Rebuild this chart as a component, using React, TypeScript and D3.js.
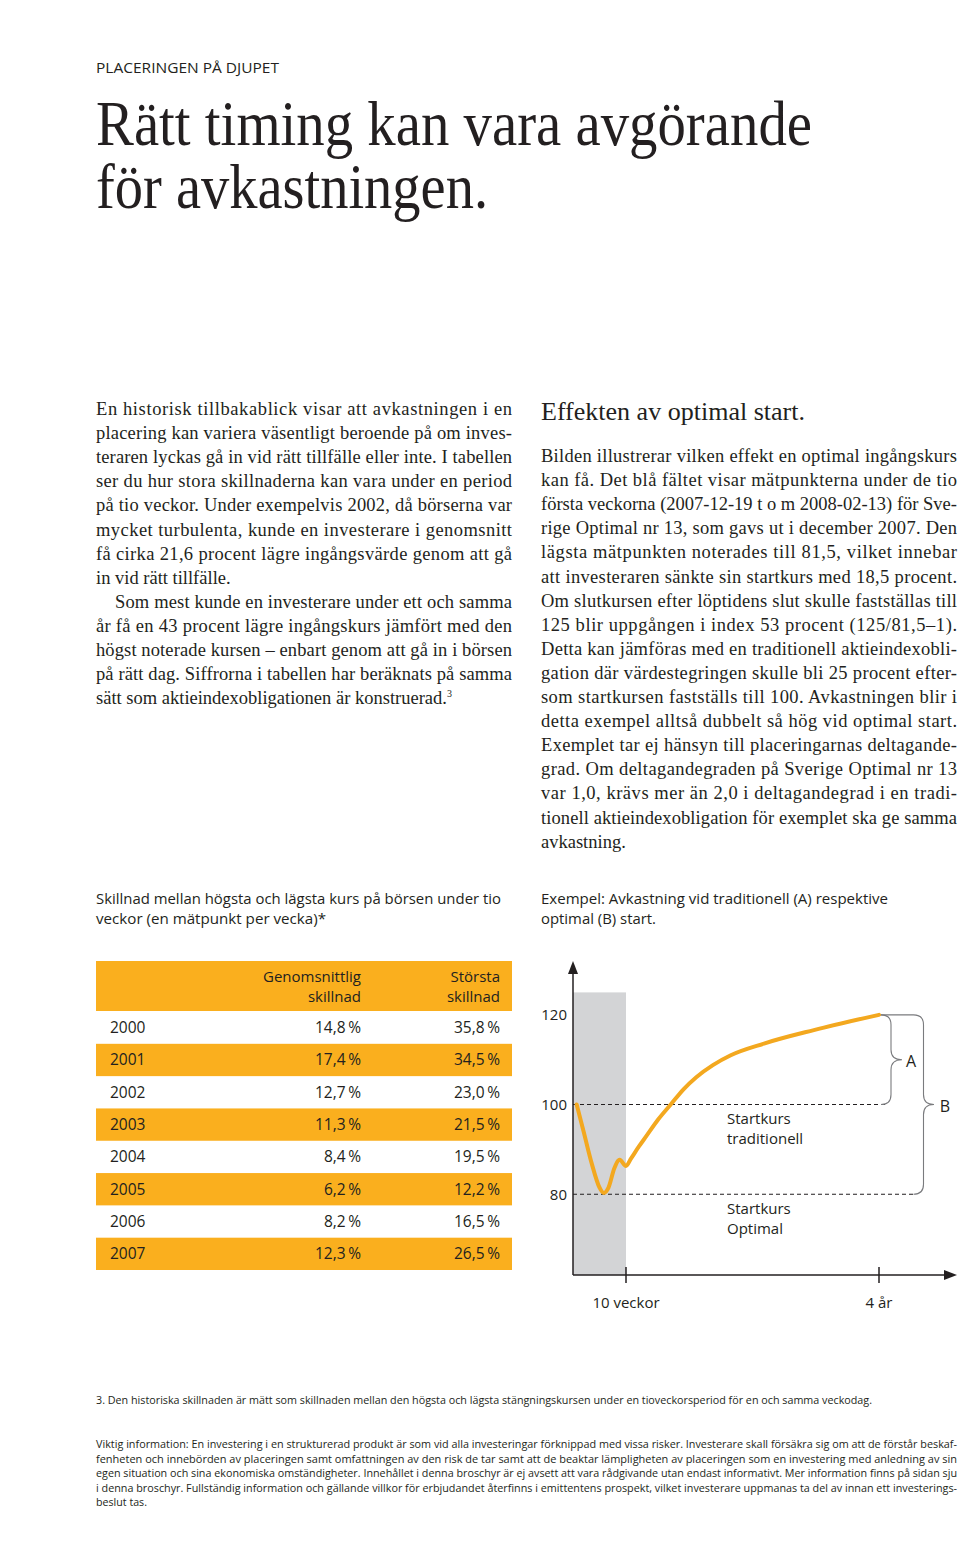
import React from "react";
import * as d3 from "d3";

// ---------- Data ----------
const years = ["2000", "2001", "2002", "2003", "2004", "2005", "2006", "2007"];
const avgDiff = [14.8, 17.4, 12.7, 11.3, 8.4, 6.2, 8.2, 12.3];
const maxDiff = [35.8, 34.5, 23.0, 21.5, 19.5, 12.2, 16.5, 26.5];

// index curve: week since start, index value
const curveWeeks = [0.7, 2, 3.5, 5, 5.8, 6.7, 7.8, 8.8, 10, 14, 20, 26, 35, 45, 55, 65, 78, 92, 118, 157, 208];
const curveValues = [100, 94, 87, 81.5, 80.3, 81.5, 85.8, 87.7, 86.3, 88, 90.6, 93, 96.6, 100, 103.4, 106.1, 108.8, 111, 113.6, 116.6, 120];

const yTickValues = [80, 100, 120];
const xTickWeeks = [10, 208];
const xTickLabels = ["10 veckor", "4 år"];
const startTraditional = 100;
const startOptimal = 80;
const endValue = 120;
const bandWeeks = [0, 10];
const bandTop = 125;

const leftParagraph = [
  "En historisk tillbakablick visar att avkastningen i en",
  "placering kan variera väsentligt beroende på om inves-",
  "teraren lyckas gå in vid rätt tillfälle eller inte. I tabellen",
  "ser du hur stora skillnaderna kan vara under en period",
  "på tio veckor. Under exempelvis 2002, då börserna var",
  "mycket turbulenta, kunde en investerare i genomsnitt",
  "få cirka 21,6 procent lägre ingångsvärde genom att gå",
  "in vid rätt tillfälle.",
  "Som mest kunde en investerare under ett och samma",
  "år få en 43 procent lägre ingångskurs jämfört med den",
  "högst noterade kursen – enbart genom att gå in i börsen",
  "på rätt dag. Siffrorna i tabellen har beräknats på samma",
  "sätt som aktieindexobligationen är konstruerad.",
];
const rightParagraph = [
  "Bilden illustrerar vilken effekt en optimal ingångskurs",
  "kan få. Det blå fältet visar mätpunkterna under de tio",
  "första veckorna (2007-12-19 t o m 2008-02-13) för Sve-",
  "rige Optimal nr 13, som gavs ut i december 2007. Den",
  "lägsta mätpunkten noterades till 81,5, vilket innebar",
  "att investeraren sänkte sin startkurs med 18,5 procent.",
  "Om slutkursen efter löptidens slut skulle fastställas till",
  "125 blir uppgången i index 53 procent (125/81,5–1).",
  "Detta kan jämföras med en traditionell aktieindexobli-",
  "gation där värdestegringen skulle bli 25 procent efter-",
  "som startkursen fastställs till 100. Avkastningen blir i",
  "detta exempel alltså dubbelt så hög vid optimal start.",
  "Exemplet tar ej hänsyn till placeringarnas deltagande-",
  "grad. Om deltagandegraden på Sverige Optimal nr 13",
  "var 1,0, krävs mer än 2,0 i deltagandegrad i en tradi-",
  "tionell aktieindexobligation för exemplet ska ge samma",
  "avkastning.",
];
const footnote3 =
  "3. Den historiska skillnaden är mätt som skillnaden mellan den högsta och lägsta stängningskursen under en tioveckorsperiod för en och samma veckodag.";
const viktigLines = [
  "Viktig information: En investering i en strukturerad produkt är som vid alla investeringar förknippad med vissa risker. Investerare skall försäkra sig om att de förstår beskaf-",
  "fenheten och innebörden av placeringen samt omfattningen av den risk de tar samt att de beaktar lämpligheten av placeringen som en investering med anledning av sin",
  "egen situation och sina ekonomiska omständigheter. Innehållet i denna broschyr är ej avsett att vara rådgivande utan endast informativt. Mer information finns på sidan sju",
  "i denna broschyr. Fullständig information och gällande villkor för erbjudandet återfinns i emittentens prospekt, vilket investerare uppmanas ta del av innan ett investerings-",
  "beslut tas.",
];

const ORANGE = "#FAAF1E";
const LINE = "#F3A81F";
const INK = "#231F20";
const SERIF = "'Liberation Serif', 'Times New Roman', serif";
const SANS = "'Open Sans', 'Noto Sans', sans-serif";

function fmt(v: number) {
  return v.toFixed(1).replace(".", ",") + "\u2009%";
}

function brace(xs: number, xv: number, xt: number, xe: number, yTop: number, yBot: number, r: number) {
  const ym = (yTop + yBot) / 2;
  return `M${xs},${yTop} H${xv - r} Q${xv},${yTop} ${xv},${yTop + r} V${ym - r} Q${xv},${ym} ${xt},${ym} Q${xv},${ym} ${xv},${ym + r} V${yBot - r} Q${xv},${yBot} ${xv - r},${yBot} H${xe}`;
}

// condensed small text: horizontally scaled so that the rendered width matches
function Condensed({ x, y, width, sx, children }: { x: number; y: number; width: number; sx: number; children: string }) {
  return (
    <text
      transform={`translate(${x},${y}) scale(${sx},1)`}
      fontFamily={SANS}
      fontSize={11}
      fill={INK}
      textLength={width / sx}
      lengthAdjust="spacingAndGlyphs"
    >
      {children}
    </text>
  );
}

export default function App() {
  // chart scales
  const x = d3.scaleLinear().domain([0, 10, 208, 270]).range([573, 626, 879, 957]);
  const y = d3.scaleLinear().domain([62, 132]).range([1275, 961]);
  const line = d3
    .line<number>()
    .x((_, i) => x(curveWeeks[i]))
    .y((v) => y(v))
    .curve(d3.curveMonotoneX);

  // table scales
  const rowY = d3.scaleBand<string>().domain(years).range([1011.5, 1270]).padding(0);
  const colX = { year: 110, avg: 361, max: 500 };

  const x0 = x(0);
  const yBase = y(62);
  const xEnd = x(208);

  return (
    <svg
      width={960}
      height={1560}
      viewBox="0 0 960 1560"
      style={{ position: "absolute", left: 0, top: 0, background: "#fff" }}
    >
      <rect width={960} height={1560} fill="#fff" />
      {/* header */}
      <text x={96} y={73} fontFamily={SANS} fontSize={14.5} fill={INK} textLength={183} lengthAdjust="spacingAndGlyphs">
        PLACERINGEN PÅ DJUPET
      </text>
      <text x={96} y={145} fontFamily={SERIF} fontSize={63} fill={INK} textLength={716} lengthAdjust="spacingAndGlyphs">
        Rätt timing kan vara avgörande
      </text>
      <text x={96} y={208} fontFamily={SERIF} fontSize={63} fill={INK} textLength={392} lengthAdjust="spacingAndGlyphs">
        för avkastningen.
      </text>

      {/* left paragraph */}
      {leftParagraph.map((t, i) => {
        const isLast = i === 7 || i === 12;
        const indent = i === 8 ? 19 : 0;
        const yy = 415 + i * 24.1;
        if (i === 12) {
          return (
            <text key={i} x={96} y={yy} fontFamily={SERIF} fontSize={18.5} fill={INK}>
              {t}
              <tspan fontSize={10} dy={-7}>3</tspan>
            </text>
          );
        }
        return (
          <text
            key={i}
            x={96 + indent}
            y={yy}
            fontFamily={SERIF}
            fontSize={18.5}
            fill={INK}
            {...(isLast ? {} : { textLength: 416 - indent, lengthAdjust: "spacing" })}
          >
            {t}
          </text>
        );
      })}

      {/* right column */}
      <text x={541} y={420} fontFamily={SERIF} fontSize={25} fill={INK} textLength={264} lengthAdjust="spacingAndGlyphs">
        Effekten av optimal start.
      </text>
      {rightParagraph.map((t, i) => {
        const isLast = i === rightParagraph.length - 1;
        return (
          <text
            key={i}
            x={541}
            y={462 + i * 24.1}
            fontFamily={SERIF}
            fontSize={18.5}
            fill={INK}
            {...(isLast ? {} : { textLength: 416, lengthAdjust: "spacing" })}
          >
            {t}
          </text>
        );
      })}

      {/* captions */}
      <text x={96} y={904} fontFamily={SANS} fontSize={15} fill={INK} textLength={405} lengthAdjust="spacingAndGlyphs">
        Skillnad mellan högsta och lägsta kurs på börsen under tio
      </text>
      <text x={96} y={924} fontFamily={SANS} fontSize={15} fill={INK} textLength={230} lengthAdjust="spacingAndGlyphs">
        veckor (en mätpunkt per vecka)*
      </text>
      <text x={541} y={904} fontFamily={SANS} fontSize={15} fill={INK} textLength={347} lengthAdjust="spacingAndGlyphs">
        Exempel: Avkastning vid traditionell (A) respektive
      </text>
      <text x={541} y={924} fontFamily={SANS} fontSize={15} fill={INK} textLength={115} lengthAdjust="spacingAndGlyphs">
        optimal (B) start.
      </text>

      {/* table */}
      <rect x={96} y={961} width={416} height={50} fill={ORANGE} />
      <text x={colX.avg} y={982} textAnchor="end" fontFamily={SANS} fontSize={15} fill={INK}>Genomsnittlig</text>
      <text x={colX.avg} y={1002} textAnchor="end" fontFamily={SANS} fontSize={15} fill={INK}>skillnad</text>
      <text x={colX.max} y={982} textAnchor="end" fontFamily={SANS} fontSize={15} fill={INK}>Största</text>
      <text x={colX.max} y={1002} textAnchor="end" fontFamily={SANS} fontSize={15} fill={INK}>skillnad</text>
      {years.map((yr, i) => {
        const top = rowY(yr)!;
        const h = rowY.bandwidth();
        const cy = top + h / 2 + 5.5;
        return (
          <g key={yr}>
            {i % 2 === 1 && <rect x={96} y={top} width={416} height={h} fill={ORANGE} />}
            <text x={colX.year} y={cy} fontFamily={SANS} fontSize={15.5} fill={INK}>{yr}</text>
            <text x={colX.avg} y={cy} textAnchor="end" fontFamily={SANS} fontSize={15.5} fill={INK}>{fmt(avgDiff[i])}</text>
            <text x={colX.max} y={cy} textAnchor="end" fontFamily={SANS} fontSize={15.5} fill={INK}>{fmt(maxDiff[i])}</text>
          </g>
        );
      })}

      {/* chart */}
      <rect
        x={x(bandWeeks[0])}
        y={y(bandTop)}
        width={x(bandWeeks[1]) - x(bandWeeks[0])}
        height={yBase - y(bandTop)}
        fill="#D3D4D6"
      />
      {/* dashed reference lines */}
      <line x1={x0} x2={885} y1={y(startTraditional)} y2={y(startTraditional)} stroke={INK} strokeWidth={1.1} strokeDasharray="4 3" />
      <line x1={x0} x2={916} y1={y(startOptimal)} y2={y(startOptimal)} stroke={INK} strokeWidth={1.1} strokeDasharray="4 3" />
      {/* braces */}
      <path
        d={brace(xEnd, 891, 902, 883, y(endValue), y(startTraditional), 10)}
        fill="none"
        stroke="#7a7b7e"
        strokeWidth={1.1}
      />
      <path
        d={brace(xEnd, 923.5, 934, 914, y(endValue), y(startOptimal), 10)}
        fill="none"
        stroke="#7a7b7e"
        strokeWidth={1.1}
      />
      <text x={911} y={1066.5} fontFamily={SANS} fontSize={16} fill={INK} textAnchor="middle">A</text>
      <text x={945} y={1111.5} fontFamily={SANS} fontSize={16} fill={INK} textAnchor="middle">B</text>

      {/* curve */}
      <path d={line(curveValues) || ""} fill="none" stroke={LINE} strokeWidth={4} strokeLinecap="round" strokeLinejoin="round" />

      {/* axes */}
      <line x1={x0} x2={x0} y1={yBase} y2={y(131)} stroke={INK} strokeWidth={1.5} />
      <path d={`M${x0},${y(132)} L${x0 - 5},${y(132) + 13} L${x0 + 5},${y(132) + 13} Z`} fill={INK} />
      <line x1={x0} x2={x(265)} y1={yBase} y2={yBase} stroke={INK} strokeWidth={1.5} />
      <path d={`M${x(270)},${yBase} L${x(270) - 13},${yBase - 5} L${x(270) - 13},${yBase + 5} Z`} fill={INK} />
      {xTickWeeks.map((w, i) => (
        <g key={w}>
          <line x1={x(w)} x2={x(w)} y1={yBase - 8} y2={yBase + 8} stroke={INK} strokeWidth={1.5} />
          <text x={x(w)} y={1308} textAnchor="middle" fontFamily={SANS} fontSize={15} fill={INK}>
            {xTickLabels[i]}
          </text>
        </g>
      ))}
      {yTickValues.map((v) => (
        <text key={v} x={567} y={y(v) + 5.5} textAnchor="end" fontFamily={SANS} fontSize={15} fill={INK}>
          {v}
        </text>
      ))}
      <text x={727} y={1124} fontFamily={SANS} fontSize={15} fill={INK}>Startkurs</text>
      <text x={727} y={1144} fontFamily={SANS} fontSize={15} fill={INK}>traditionell</text>
      <text x={727} y={1214} fontFamily={SANS} fontSize={15} fill={INK}>Startkurs</text>
      <text x={727} y={1234} fontFamily={SANS} fontSize={15} fill={INK}>Optimal</text>

      {/* footnotes */}
      <Condensed x={96} y={1404} width={776} sx={0.9}>{footnote3}</Condensed>
      {viktigLines.map((t, i) => {
        const isLast = i === viktigLines.length - 1;
        return (
          <Condensed key={i} x={96} y={1448 + i * 14.5} width={isLast ? 51 : 861} sx={0.86}>
            {t}
          </Condensed>
        );
      })}
    </svg>
  );
}
